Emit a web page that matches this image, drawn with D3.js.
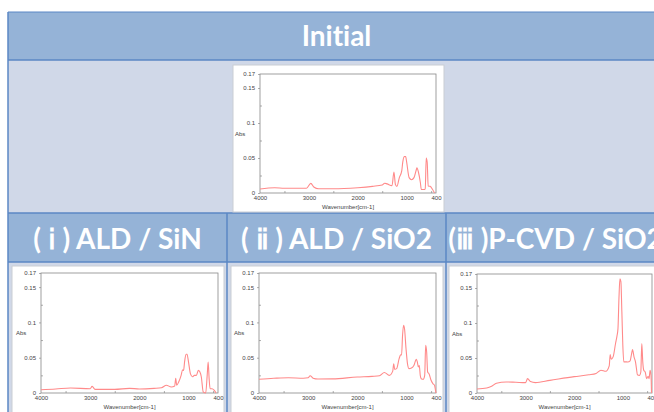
<!DOCTYPE html>
<html>
<head>
<meta charset="utf-8">
<script src="https://cdnjs.cloudflare.com/ajax/libs/d3/7.8.5/d3.min.js"></script>
<style>
  body { margin: 0; background: #fff; }
  svg { display: block; }
</style>
</head>
<body>
<svg width="654" height="412"></svg>
<script>
// spectra: [wavenumber cm-1, Abs]
var initialSpectrum = [[4000,0.0057],[3700,0.0076],[3500,0.0067],[3050,0.0067],[2960,0.0138],[2900,0.0086],[2800,0.006],[2500,0.006],[2000,0.0076],[1700,0.0095],[1500,0.0114],[1450,0.014],[1400,0.013],[1300,0.0105],[1260,0.030],[1230,0.012],[1200,0.0095],[1150,0.022],[1100,0.032],[1080,0.044],[1050,0.052],[1020,0.052],[1000,0.044],[950,0.022],[900,0.019],[850,0.022],[800,0.034],[790,0.036],[760,0.030],[720,0.015],[700,0.005],[650,0.005],[620,0.006],[600,0.050],[580,0.044],[560,0.010],[520,0.0095],[470,0.005],[430,0.0]];
var sinSpectrum = [[4000,0.0047],[3700,0.0057],[3400,0.0071],[3000,0.006],[2960,0.0094],[2900,0.0052],[2700,0.0052],[2500,0.0052],[2200,0.0066],[2000,0.0057],[1700,0.0066],[1550,0.0075],[1450,0.011],[1350,0.0085],[1280,0.010],[1260,0.021],[1240,0.011],[1200,0.0156],[1150,0.025],[1120,0.033],[1100,0.032],[1080,0.044],[1050,0.055],[1030,0.055],[1000,0.044],[960,0.027],[920,0.023],[880,0.025],[840,0.025],[800,0.032],[770,0.030],[740,0.023],[700,0.0014],[650,0.0],[620,0.025],[600,0.044],[580,0.020],[560,0.006],[520,0.006],[480,0.004],[440,0.0]];
var sio2Spectrum = [[4000,0.0194],[3700,0.0208],[3400,0.0217],[3100,0.021],[3000,0.0215],[2960,0.0245],[2900,0.021],[2800,0.0198],[2500,0.020],[2000,0.0227],[1700,0.0236],[1550,0.0245],[1450,0.029],[1350,0.025],[1280,0.031],[1260,0.0415],[1240,0.0335],[1200,0.0345],[1150,0.0486],[1120,0.054],[1100,0.054],[1080,0.0817],[1060,0.096],[1040,0.091],[1010,0.063],[980,0.0415],[950,0.0345],[900,0.0354],[850,0.039],[800,0.0477],[780,0.044],[760,0.037],[740,0.039],[720,0.025],[700,0.0203],[660,0.0194],[630,0.025],[610,0.0675],[590,0.058],[570,0.0297],[540,0.027],[500,0.018],[460,0.013],[430,0.011],[410,0.0038],[400,0.0]];
var pcvdSpectrum = [[4000,0.0057],[3800,0.0072],[3700,0.0096],[3600,0.0139],[3400,0.0158],[3200,0.0153],[3000,0.0148],[2960,0.0206],[2900,0.0163],[2800,0.0148],[2500,0.018],[2000,0.0234],[1700,0.026],[1550,0.028],[1450,0.0325],[1350,0.031],[1280,0.0387],[1260,0.055],[1240,0.0483],[1200,0.0516],[1150,0.0707],[1120,0.0817],[1100,0.092],[1080,0.135],[1060,0.163],[1040,0.159],[1020,0.116],[1000,0.068],[980,0.0445],[950,0.0445],[900,0.0443],[850,0.046],[820,0.056],[800,0.062],[770,0.0516],[740,0.0445],[720,0.035],[700,0.026],[660,0.025],[630,0.030],[610,0.0707],[590,0.0445],[570,0.0325],[540,0.030],[510,0.0206],[480,0.024],[460,0.0206],[440,0.0325],[420,0.025],[410,0.0]];

var headerLabels = ["( \u2170 ) ALD / SiN", "( \u2171 ) ALD / SiO2", "(\u2172 )P-CVD / SiO2"];
var xTicks = [4000, 3000, 2000, 1000, 400];
var xMinor = [3500, 2500, 1500, 500];
var yTicks = [0, 0.05, 0.1, 0.15, 0.17];
var yMinor = [0.025, 0.075, 0.125];

var svg = d3.select("svg");

// table background
var tx = 8, tw = 657;
svg.append("rect").attr("x", tx).attr("y", 12).attr("width", tw).attr("height", 48).attr("fill", "#95b3d7");
svg.append("rect").attr("x", tx).attr("y", 60).attr("width", tw).attr("height", 153).attr("fill", "#d0d8e8");
svg.append("rect").attr("x", tx).attr("y", 213).attr("width", tw).attr("height", 49).attr("fill", "#95b3d7");
svg.append("rect").attr("x", tx).attr("y", 262).attr("width", tw).attr("height", 160).attr("fill", "#d0d8e8");

var lineCol = "#5b87c5";
[12, 60, 213, 262].forEach(function (y) {
    svg.append("line").attr("x1", tx).attr("x2", tx + tw).attr("y1", y).attr("y2", y)
        .attr("stroke", lineCol).attr("stroke-width", y == 12 ? 1 : 1.5);
});
svg.append("line").attr("x1", tx).attr("x2", tx).attr("y1", 12).attr("y2", 412).attr("stroke", lineCol).attr("stroke-width", 1.5);
[227, 446].forEach(function (x) {
    svg.append("line").attr("x1", x).attr("x2", x).attr("y1", 213).attr("y2", 412).attr("stroke", lineCol).attr("stroke-width", 1.5);
});

// header texts
var hdrFont = "bold 28px Lato, 'Open Sans', sans-serif";
svg.append("text").attr("x", tx + tw / 2).attr("y", 46).attr("text-anchor", "middle")
    .attr("fill", "#fff").style("font", hdrFont).style("font-variant-ligatures", "none").text("Initial");
headerLabels.forEach(function (t, i) {
    svg.append("text").attr("x", tx + 219 * i + 109.5).attr("y", 249).attr("text-anchor", "middle")
        .attr("fill", "#fff").style("font", hdrFont).style("font-variant-ligatures", "none").text(t);
});

// spectrum panels
var panels = [
    { data: initialSpectrum, img: [233, 65, 211, 147], frame: [260, 74, 176, 119] },
    { data: sinSpectrum, img: [12, 266, 212, 160], frame: [41, 273, 177, 120] },
    { data: sio2Spectrum, img: [231, 266, 212, 160], frame: [259, 273, 177, 120] },
    { data: pcvdSpectrum, img: [449, 266, 215, 160], frame: [477, 274, 175, 119] }
];

panels.forEach(function (p) {
    var g = svg.append("g");
    g.append("rect").attr("x", p.img[0]).attr("y", p.img[1]).attr("width", p.img[2]).attr("height", p.img[3])
        .attr("fill", "#fff").attr("stroke", "#c9cdd3").attr("stroke-width", 1);

    var fx = p.frame[0], fy = p.frame[1], fw = p.frame[2], fh = p.frame[3];
    var x = d3.scaleLinear().domain([4000, 400]).range([fx, fx + fw]);
    var y = d3.scaleLinear().domain([0, 0.17]).range([fy + fh, fy]);

    var font = "6px 'Liberation Sans', Arial, sans-serif";

    // y axis
    var ya = g.append("g").attr("transform", "translate(" + fx + ",0)")
        .call(d3.axisLeft(y).tickValues(yTicks).tickSize(2).tickPadding(3).tickFormat(d3.format("")));
    ya.append("g").call(d3.axisRight(y).tickValues(yMinor).tickSize(2).tickFormat(""));
    // x axis
    var xa = g.append("g").attr("transform", "translate(0," + (fy + fh) + ")")
        .call(d3.axisBottom(x).tickValues(xTicks).tickSize(0).tickPadding(3).tickFormat(d3.format("")));
    xa.append("g").call(d3.axisTop(x).tickValues(xMinor).tickSize(2).tickFormat(""));

    g.selectAll(".domain").remove();
    g.selectAll(".tick line").attr("stroke", "#777").attr("stroke-width", 0.6);
    g.selectAll(".tick text").attr("fill", "#444").style("font", font);

    g.append("rect").attr("x", fx).attr("y", fy).attr("width", fw).attr("height", fh)
        .attr("fill", "none").attr("stroke", "#888").attr("stroke-width", 0.8);

    g.append("text").attr("x", fx - 25).attr("y", fy + fh * 0.52).attr("fill", "#444")
        .style("font", font).text("Abs");
    g.append("text").attr("x", fx + fw / 2).attr("y", fy + fh + 16).attr("text-anchor", "middle")
        .attr("fill", "#444").style("font", font).text("Wavenumber[cm-1]");

    var line = d3.line().x(function (d) { return x(d[0]); }).y(function (d) { return y(d[1]); })
        .curve(d3.curveMonotoneX);
    g.append("path").attr("d", line(p.data)).attr("fill", "none")
        .attr("stroke", "#ff8a8a").attr("stroke-width", 1.1);
});
</script>
</body>
</html>
